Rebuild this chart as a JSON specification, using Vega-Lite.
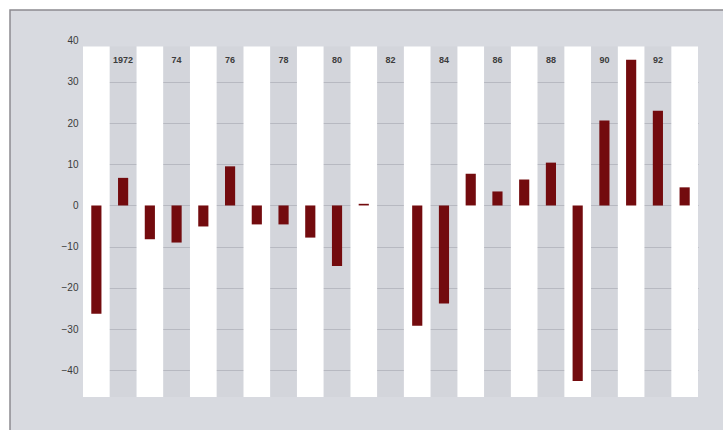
{
  "$schema": "https://vega.github.io/schema/vega-lite/v6.json",
  "autosize": {"type": "none"},
  "padding": {"left": 10, "top": 10, "right": 0, "bottom": 0},
  "width": 722,
  "height": 432,
  "background": "#ffffff",
  "config": {
    "view": {"fill": "#d8dae0", "stroke": "#8c8a90", "strokeWidth": 1.5},
    "font": "Liberation Sans"
  },
  "data": {
    "values": [
      {"year": 1971, "value": -26.3, "label": ""},
      {"year": 1972, "value": 6.7, "label": "1972"},
      {"year": 1973, "value": -8.2, "label": ""},
      {"year": 1974, "value": -9.0, "label": "74"},
      {"year": 1975, "value": -5.1, "label": ""},
      {"year": 1976, "value": 9.5, "label": "76"},
      {"year": 1977, "value": -4.6, "label": ""},
      {"year": 1978, "value": -4.6, "label": "78"},
      {"year": 1979, "value": -7.8, "label": ""},
      {"year": 1980, "value": -14.7, "label": "80"},
      {"year": 1981, "value": 0.4, "label": ""},
      {"year": 1982, "value": 0, "label": "82"},
      {"year": 1983, "value": -29.2, "label": ""},
      {"year": 1984, "value": -23.8, "label": "84"},
      {"year": 1985, "value": 7.7, "label": ""},
      {"year": 1986, "value": 3.4, "label": "86"},
      {"year": 1987, "value": 6.3, "label": ""},
      {"year": 1988, "value": 10.4, "label": "88"},
      {"year": 1989, "value": -42.6, "label": ""},
      {"year": 1990, "value": 20.6, "label": "90"},
      {"year": 1991, "value": 35.4, "label": ""},
      {"year": 1992, "value": 23.0, "label": "92"},
      {"year": 1993, "value": 4.4, "label": ""}
    ]
  },
  "encoding": {
    "x": {
      "field": "year",
      "type": "ordinal",
      "scale": {"range": [73, 688], "paddingInner": 0, "paddingOuter": 0},
      "axis": null
    }
  },
  "layer": [
    {
      "transform": [{"filter": "datum.year % 2 == 1"}],
      "mark": {"type": "rect", "fill": "#ffffff"},
      "encoding": {
        "y": {
          "datum": -46.5,
          "type": "quantitative",
          "scale": {"domain": [-46.5, 40], "range": [387, 30.7], "nice": false, "zero": false},
          "axis": {
            "orient": "left",
            "offset": -73,
            "values": [-40, -30, -20, -10, 0, 10, 20, 30, 40],
            "domain": false,
            "ticks": false,
            "labelPadding": 5,
            "labelFontSize": 10,
            "labelColor": "#3a3a3a",
            "grid": true,
            "gridColor": "#b0b2ba",
            "gridOpacity": {"condition": {"test": "datum.value == 40", "value": 0}, "value": 1},
            "title": null
          }
        },
        "y2": {"datum": 38.6}
      }
    },
    {
      "transform": [{"filter": "datum.year % 2 == 0"}],
      "mark": {"type": "rect", "fill": "#c8cad1", "opacity": 0.3},
      "encoding": {
        "y": {"datum": -46.5, "type": "quantitative"},
        "y2": {"datum": 38.6}
      }
    },
    {
      "mark": {"type": "bar", "color": "#730b0e", "width": {"band": 0.38}},
      "encoding": {
        "y": {"field": "value", "type": "quantitative"}
      }
    },
    {
      "transform": [{"filter": "datum.year % 2 == 0"}],
      "mark": {"type": "text", "fontSize": 9, "color": "#3c3c3c", "baseline": "middle", "fontWeight": "bold"},
      "encoding": {
        "y": {"datum": 35.3, "type": "quantitative"},
        "text": {"field": "label"}
      }
    }
  ]
}
